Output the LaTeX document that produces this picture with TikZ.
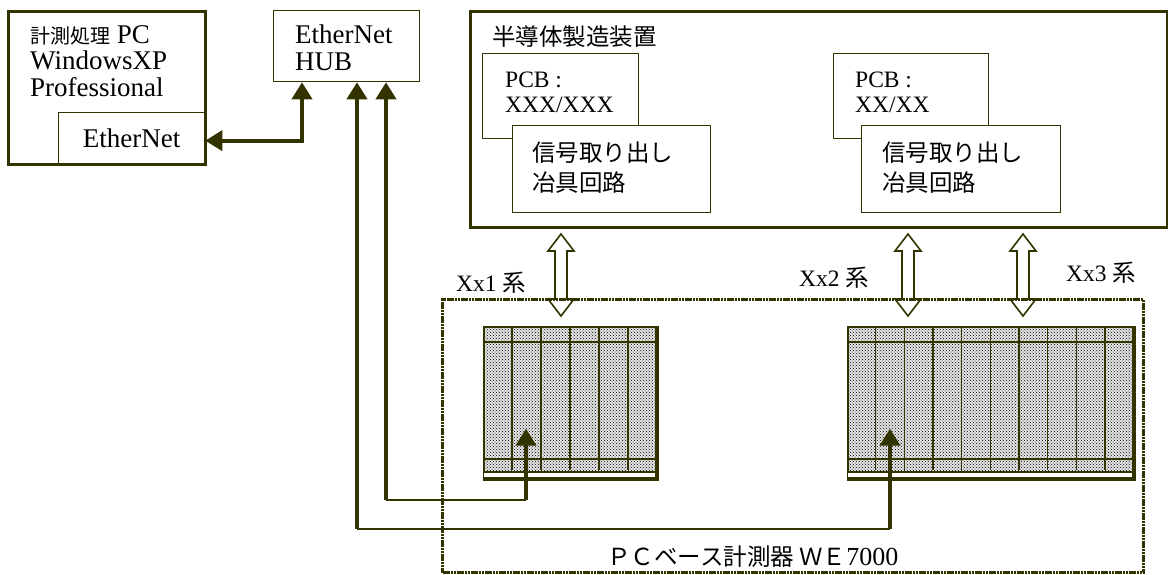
\documentclass[tikz,border=0pt]{standalone}
\usepackage{fontspec}
\setmainfont{Liberation Serif}
\newfontfamily\jp{Noto Sans CJK JP}
\usetikzlibrary{arrows.meta,calc,patterns}
\definecolor{olv}{HTML}{333300}
\newcommand\jsm[1]{{\fontsize{20}{26.5}\selectfont\jp #1}}

\begin{document}
\begin{tikzpicture}[x=1pt,y=-1pt,
    box/.style={draw=olv,line width=1.3pt,anchor=north west,inner sep=0pt},
    txt/.style={inner sep=0pt,anchor=north west,align=left},
    lbl/.style={inner sep=0pt,anchor=west,font=\fontsize{23.5}{25}\selectfont},
    fbig/.style={font=\fontsize{27}{26.5}\selectfont},
    fmid/.style={font=\fontsize{23.5}{25}\selectfont},
    fjp/.style={font=\fontsize{23.5}{30}\selectfont\jp},
    rack/.style={draw=olv,line width=1.7pt,anchor=north west,inner sep=0pt,
                 preaction={fill=black!10},
                 pattern=crosshatch dots,pattern color=black,minimum height=151pt},
    cell/.style={olv,line width=1.6pt},
    rim/.style={olv,line width=4pt},
    bus/.style={olv,line width=4pt},
    wire/.style={olv,line width=1.6pt},
    arr/.style={-{Triangle[width=20pt,length=17pt]}},
    hollow/.style={draw=olv,fill=white,line width=1.6pt,line join=miter},
    rope/.style={draw=olv,line width=3pt,dash pattern=on 2.2pt off 0.6pt}]
  \useasboundingbox (0,0) rectangle (1168,574);

  % measuring PC and hub
  \node[box,fbig,minimum width=146pt,minimum height=51pt] (net) at (58,112) {EtherNet};
  \node[box,line width=2.7pt,minimum width=197pt,minimum height=153pt] (pc) at (7,10) {};
  \node[txt,fbig] (pct) at ($(pc.north west)+(23,15)$) {\jsm{計測処理} PC\\WindowsXP\\Professional};
  \node[box,minimum width=146pt,minimum height=71pt] (hub) at (273,10) {};
  \node[txt,font=\fontsize{27}{27.5}\selectfont] (hubt) at ($(hub.north west)+(22,14.5)$) {EtherNet\\HUB};

  % equipment
  \node[box,line width=3pt,minimum width=697pt,minimum height=216pt] (eq) at (469,10) {};
  \node[txt,fjp] (eqt) at ($(eq.north west)+(23,16)$) {半導体製造装置};
  \node[box,minimum width=156pt,minimum height=85pt] (pa) at (482,53) {};
  \node[txt,fmid] (pat) at ($(pa.north west)+(23,19)$) {PCB :\\XXX/XXX};
  \node[box,fill=white,minimum width=198pt,minimum height=87pt] (sa) at (512,125) {};
  \node[txt,fjp] (sat) at ($(sa.north west)+(20,17)$) {信号取り出し\\冶具回路};
  \node[box,minimum width=155pt,minimum height=85pt] (pb) at (833,53) {};
  \node[txt,fmid] (pbt) at ($(pb.north west)+(22,19)$) {PCB :\\XX/XX};
  \node[box,fill=white,minimum width=199pt,minimum height=87pt] (sb) at (861,125) {};
  \node[txt,fjp] (sbt) at ($(sb.north west)+(21,17)$) {信号取り出し\\冶具回路};

  % signal lines between equipment and WE7000
  \foreach \x in {561,908,1023}
    \draw[hollow] ($(eq.south -| \x,0)+(0,5)$) -- ++(13,17) -- ++(-7,0) -- ++(0,48)
      -- ++(7,0) -- ++(-13,17) -- ++(-13,-17) -- ++(7,0) -- ++(0,-48) -- ++(-7,0) -- cycle;

  % WE7000
  \node[rope,anchor=north west,inner sep=0pt,minimum width=701pt,minimum height=273pt] (we) at (441,298) {};
  \node[lbl] (la) at (456,283) {Xx1 {\jp 系}};
  \node[lbl] (lb) at (799,278) {Xx2 {\jp 系}};
  \node[lbl] (lc) at (1066,273) {Xx3 {\jp 系}};
  \node[lbl] (wet) at (607,557) {{\jp ＰＣベース計測器 ＷＥ}{\fontsize{26}{26}\selectfont 7000}};

  \node[rack,minimum width=172pt] (ra) at (483,326) {};
  \node[rack,minimum width=285pt] (rb) at (847,326) {};
  \foreach \r/\n in {ra/6,rb/10}{
    \pgfmathtruncatemacro\m{\n-1}
    \foreach \i in {1,...,\m}
      \draw[cell] ($(\r.north west)!\i/\n!(\r.north east)$) -- ++(0,144);
    \draw[cell] ($(\r.north west)+(0,16)$) -- ($(\r.north east)+(0,16)$);
    \draw[cell] ($(\r.south west)+(0,-20)$) -- ($(\r.south east)+(0,-20)$);
    \draw[cell] ($(\r.south west)+(0,-7)$) -- ($(\r.south east)+(0,-7)$);
    \fill[white] ($(\r.south west)+(1,-6)$) rectangle ($(\r.south east)+(-2,-2)$);
    \draw[rim] (\r.north east) -- (\r.south east) -- (\r.south west);
  }

  % LAN
  \coordinate (h1) at ($(hub.south west)+(29,0)$);
  \coordinate (h2) at ($(hub.south west)+(84,0)$);
  \coordinate (h3) at ($(hub.south west)+(113,0)$);
  \coordinate (ta) at ($(ra.south west)+(43,-50)$);
  \coordinate (tb) at ($(rb.south west)+(43,-50)$);
  \coordinate (ka) at (h3 |- 0,500);
  \coordinate (kb) at (ta |- 0,500);
  \coordinate (kc) at (h2 |- 0,529);
  \coordinate (kd) at (tb |- 0,529);

  \draw[bus,line join=miter,{Triangle[width=20pt,length=17pt]}-{Triangle[width=20pt,length=17pt]}]
    (h1) |- ($(net.east)+(0,2.5)$);
  \draw[wire] (ka) -- (kb);
  \draw[wire] (kc) -- (kd);
  \foreach \a/\b in {ka/h3,kb/ta,kc/h2,kd/tb}
    \draw[bus,arr] (\a) -- (\b);
\end{tikzpicture}
\end{document}
